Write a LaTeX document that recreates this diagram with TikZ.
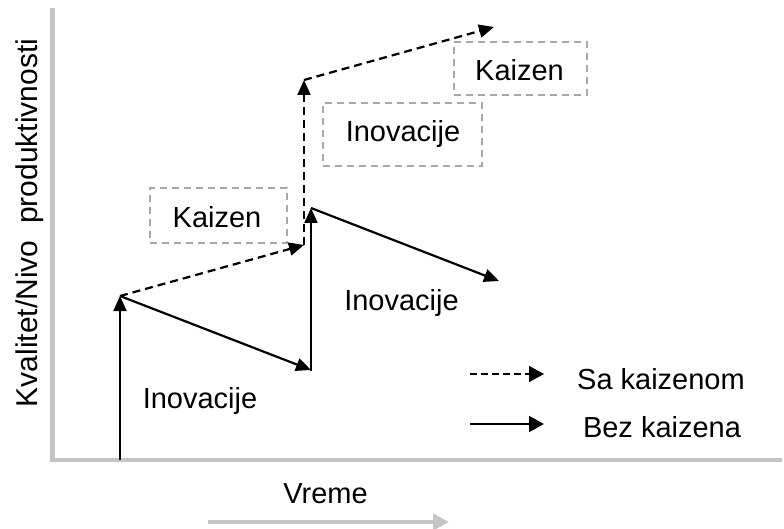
\documentclass[tikz,border=0pt]{standalone}
\usepackage{fontspec}
\setmainfont{Liberation Sans}
\usetikzlibrary{arrows.meta}
\definecolor{axisgray}{HTML}{C4C4C4}
\definecolor{boxgray}{HTML}{A8A8A8}
\tikzset{
  lbl/.style={font=\fontsize{29}{32}\selectfont, inner sep=0pt, anchor=base},
  grayframe/.style={draw=boxgray, line width=1.5pt, dash pattern=on 7pt off 5pt, inner sep=0pt},
  tip/.style={-{Triangle[length=15pt,width=13pt]}},
  solidarr/.style={line width=2.2pt, tip},
  dasharr/.style={line width=2.2pt, dash pattern=on 8pt off 5pt, tip},
  axis/.style={draw=axisgray, line width=4.5pt}
}
\begin{document}
\begin{tikzpicture}[x=1pt,y=-1pt]
\useasboundingbox (0,0) rectangle (784,529);
% axes
\coordinate (ytop) at (52.5,8);
\coordinate (orig) at (52.5,460);
\coordinate (xend) at (782,460);
\draw[axis] (ytop) -- (orig) -- (xend);
% time arrow
\coordinate (t0) at (208,522);
\coordinate (t1) at (449,522);
\draw[draw=axisgray, line width=4.5pt, -{Triangle[length=16pt,width=16pt]}, color=axisgray] (t0) -- (t1);
\node[lbl] (vreme) at (325.5,503) {Vreme};
\node[lbl, font=\fontsize{30}{32}\selectfont, rotate=90] (ylab) at (37,223) {Kvalitet/Nivo\ \ produktivnosti};
% boxes
\node[grayframe, minimum width=137pt, minimum height=55pt] (k1box) at (218.5,215.5) {};
\node[grayframe, minimum width=159pt, minimum height=63pt] (i2box) at (402.5,134.5) {};
\node[grayframe, minimum width=133pt, minimum height=53pt] (k2box) at (520.5,68.5) {};
\node[lbl] (k1) at (217,228) {Kaizen};
\node[lbl] (inov2) at (403,142) {Inovacije};
\node[lbl] (k2) at (519.5,81) {Kaizen};
\node[lbl] (inov1) at (200,408) {Inovacije};
\node[lbl] (inov3) at (401.5,310) {Inovacije};
% solid path points
\coordinate (s0) at (120,460);
\coordinate (a) at (120,296);
\coordinate (b) at (311,370);
\coordinate (bt) at (311,371);
\coordinate (c) at (311,208);
\coordinate (d) at (499,281);
% dashed path points
\coordinate (e) at (304,245);
\coordinate (f) at (304,80);
\coordinate (g) at (494,27);
% solid arrows
\draw[solidarr] (s0) -- (a);
\draw[solidarr] (a) -- (b);
\draw[solidarr] (bt) -- (c);
\draw[solidarr] (c) -- (d);
% dashed arrows
\draw[dasharr] (a) -- (e);
\draw[dasharr] (e) -- (f);
\draw[dasharr] (f) -- (g);
% legend
\coordinate (l1a) at (470,374);
\coordinate (l1b) at (544,374);
\coordinate (l2a) at (470,424);
\coordinate (l2b) at (544,424);
\draw[line width=1.6pt, dash pattern=on 7pt off 4pt, -{Triangle[length=15pt,width=16pt]}] (l1a) -- (l1b);
\draw[line width=2pt, -{Triangle[length=15pt,width=16pt]}] (l2a) -- (l2b);
\node[lbl] (sa) at (661,389) {Sa kaizenom};
\node[lbl] (bez) at (662,437) {Bez kaizena};
\end{tikzpicture}
\end{document}
